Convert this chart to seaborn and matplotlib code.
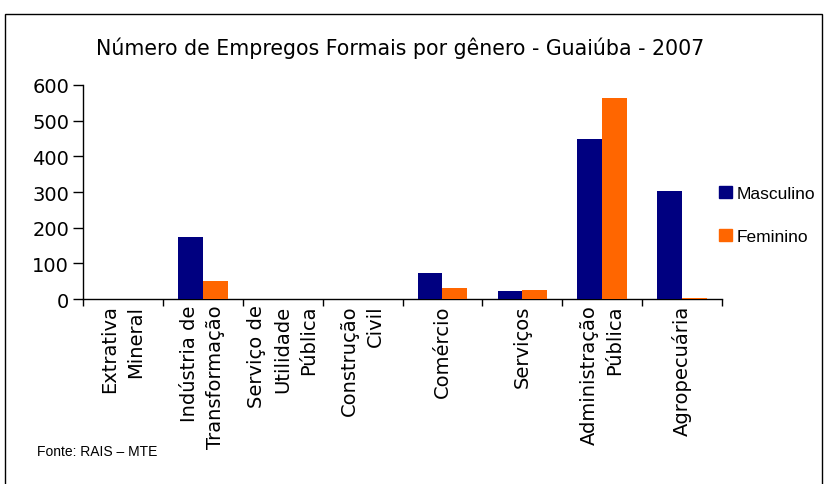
import numpy as np
import pandas as pd
import matplotlib
matplotlib.use("Agg")
import matplotlib.pyplot as plt
import seaborn as sns
from matplotlib.patches import Rectangle, Patch

# data
setores = ["Extrativa\nMineral", "Indústria de\nTransformação", "Serviço de\nUtilidade\nPública",
           "Construção\nCivil", "Comércio", "Serviços", "Administração\nPública", "Agropecuária"]
masculino = [0, 174, 0, 0, 73, 22, 448, 303]
feminino = [0, 50, 0, 0, 31, 25, 563, 3]

df = pd.DataFrame({
    "setor": setores * 2,
    "valor": masculino + feminino,
    "genero": ["Masculino"] * len(setores) + ["Feminino"] * len(setores),
})

sns.set_style("white")
plt.rcParams["font.family"] = ["DejaVu Sans"]
plt.rcParams["text.color"] = "black"
plt.rcParams["xtick.color"] = "black"
plt.rcParams["ytick.color"] = "black"

fig = plt.figure(figsize=(8.27, 4.85), dpi=100)
ax = fig.add_axes([0.1004, 0.3814, 0.7726, 0.4413])

sns.barplot(data=df, x="setor", y="valor", hue="genero", order=setores,
            palette={"Masculino": "#000080", "Feminino": "#FF6600"},
            width=0.62, saturation=1, linewidth=0, ax=ax, legend=False)

ax.set_xlim(-0.5, len(setores) - 0.5)
ax.set_ylim(0, 600)
ax.set_yticks(np.arange(0, 601, 100))
ax.set_xlabel("")
ax.set_ylabel("")
for s in ["top", "right"]:
    ax.spines[s].set_visible(False)
for s in ["left", "bottom"]:
    ax.spines[s].set_color("black")
    ax.spines[s].set_linewidth(1)
    ax.spines[s].set_zorder(0.5)

ax.tick_params(axis="y", which="major", direction="out", length=7, width=1,
               color="black", left=True, labelsize=14, pad=3)
ax.set_xticks(np.arange(len(setores)))
ax.set_xticklabels(setores, rotation=90, fontsize=14, ha="center", va="top",
                   multialignment="right", linespacing=1.45)
ax.tick_params(axis="x", which="major", length=0, pad=4)
ax.set_xticks(np.arange(len(setores) + 1) - 0.5, minor=True)
ax.tick_params(axis="x", which="minor", direction="out", length=5, width=1,
               color="black", bottom=True)

fig.text(0.484, 0.901, "Número de Empregos Formais por gênero - Guaiúba - 2007",
         ha="center", va="center", fontsize=14.8)

handles = [Patch(color="#000080", label="Masculino"), Patch(color="#FF6600", label="Feminino")]
fig.legend(handles=handles, loc="center left", bbox_to_anchor=(0.851, 0.555),
           frameon=False, prop={"family": "Liberation Sans", "size": 12.5},
           handlelength=0.75, handleheight=0.75, handletextpad=0.25, labelspacing=1.6)

fig.text(0.045, 0.068, "Fonte: RAIS – MTE", fontsize=10, family="Liberation Sans",
         ha="left", va="center")

fig.patches.append(Rectangle((5 / 827, -0.1), 817 / 827, 1.1 - 15 / 485,
                             transform=fig.transFigure, fill=False,
                             edgecolor="black", linewidth=1))

fig.savefig("out.png", dpi=100)
